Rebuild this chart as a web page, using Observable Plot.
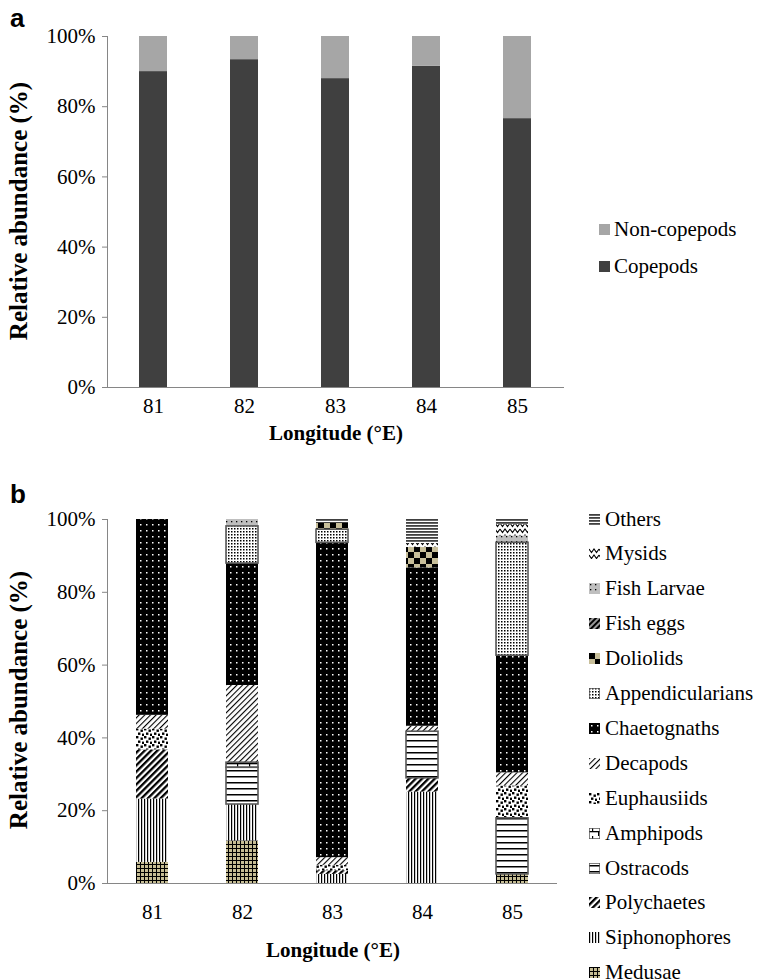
<!DOCTYPE html>
<html><head><meta charset="utf-8">
<script src="https://cdn.jsdelivr.net/npm/d3@7"></script>
<script src="https://cdn.jsdelivr.net/npm/@observablehq/plot@0.6"></script>
<style>
body{margin:0;background:#fff;}
#wrap{position:relative;width:770px;height:980px;overflow:hidden;font-family:"Liberation Serif","Times New Roman",serif;color:#000;background:#fff;}
.pl text{fill:#000;}
.letter{position:absolute;font-family:"Liberation Sans",Arial,sans-serif;font-weight:bold;font-size:26px;line-height:1;}
.xt{position:absolute;font-weight:bold;font-size:21px;line-height:1;transform:translateX(-50%);white-space:nowrap;}
.yt{position:absolute;font-weight:bold;font-size:25px;line-height:1;white-space:nowrap;transform:translate(-50%,-50%) rotate(-90deg);}
.row{position:absolute;display:flex;align-items:center;white-space:nowrap;height:30px;font-size:21px;line-height:1;}
.row svg{display:block;}
</style></head>
<body>
<div id="wrap"></div>
<script>
// ---------- data ----------
const longitudes = ["81", "82", "83", "84", "85"];
const yTicks = [0, 20, 40, 60, 80, 100];

// panel a
const groupsA = ["Copepods", "Non-copepods"];
const copepods = [90.0, 93.4, 88.0, 91.5, 76.6];
const nonCopepods = [10.0, 6.6, 12.0, 8.5, 23.4];

// panel b (stack order: bottom -> top)
const taxa = ["Medusae", "Siphonophores", "Polychaetes", "Ostracods", "Amphipods", "Euphausiids", "Decapods",
  "Chaetognaths", "Appendicularians", "Doliolids", "Fish eggs", "Fish Larvae", "Mysids", "Others"];
const medusae = [5.8, 11.7, 0, 0, 2.5];
const siphonophores = [17.4, 10.0, 2.5, 25.1, 0];
const polychaetes = [13.5, 0, 1.0, 3.8, 0];
const ostracods = [0, 10.1, 0, 12.8, 15.4];
const amphipods = [0, 1.4, 0, 0, 0];
const euphausiids = [5.7, 0, 1.5, 0, 8.9];
const decapods = [3.8, 21.2, 2.1, 1.5, 3.6];
const chaetognaths = [53.8, 33.5, 86.5, 43.5, 32.2];
const appendicularians = [0, 10.2, 3.6, 0, 31.0];
const doliolids = [0, 0, 1.7, 5.6, 0];
const fishEggs = [0, 0, 0, 0, 0];
const fishLarvae = [0, 1.9, 0, 0, 1.9];
const mysids = [0, 0, 0, 1.1, 3.1];
const others = [0, 0, 1.1, 6.6, 1.4];

// ---------- styles ----------
const colorA = {"Copepods": "#404040", "Non-copepods": "#a6a6a6"};
const patId = {"Medusae": "p-med", "Siphonophores": "p-sip", "Polychaetes": "p-pol", "Ostracods": "p-ost",
  "Amphipods": "p-amp", "Euphausiids": "p-euf", "Decapods": "p-dec", "Chaetognaths": "p-cha",
  "Appendicularians": "p-app", "Doliolids": "p-dol", "Fish eggs": "p-egg", "Fish Larvae": "p-fla",
  "Mysids": "p-mys", "Others": "p-oth"};
const outlined = new Set(["Ostracods", "Appendicularians", "Amphipods"]);

const defs = `
<svg width="0" height="0" style="position:absolute"><defs>
<pattern id="p-med" width="4" height="4" patternUnits="userSpaceOnUse">
  <rect width="4" height="4" fill="#c6bd94"/><rect width="4" height="1" fill="#000"/><rect width="1" height="4" fill="#000"/></pattern>
<pattern id="p-sip" width="3" height="3" patternUnits="userSpaceOnUse">
  <rect width="3" height="3" fill="#fff"/><rect width="1.2" height="3" fill="#000"/></pattern>
<pattern id="p-pol" width="4.5" height="4.5" patternUnits="userSpaceOnUse" patternTransform="rotate(45)">
  <rect width="4.5" height="4.5" fill="#fff"/><rect width="2.3" height="4.5" fill="#000"/></pattern>
<pattern id="p-ost" width="6" height="6" patternUnits="userSpaceOnUse">
  <rect width="6" height="6" fill="#fff"/><rect y="2" width="6" height="1.5" fill="#000"/></pattern>
<pattern id="p-amp" width="12" height="8" patternUnits="userSpaceOnUse">
  <rect width="12" height="8" fill="#fff"/><rect y="3" width="12" height="1.3" fill="#000"/>
  <rect x="3" y="0" width="1.2" height="3" fill="#000"/><rect x="9" y="4" width="1.2" height="4" fill="#000"/></pattern>
<pattern id="p-euf" width="8" height="8" patternUnits="userSpaceOnUse">
  <rect width="8" height="8" fill="#fff"/>
  <rect x="0" y="0" width="2.4" height="2.4" fill="#000"/><rect x="4.5" y="1.5" width="2.4" height="2.4" fill="#000"/>
  <rect x="2" y="4.5" width="2.4" height="2.4" fill="#000"/><rect x="6" y="5.6" width="2.4" height="2.4" fill="#000"/></pattern>
<pattern id="p-dec" width="4" height="4" patternUnits="userSpaceOnUse" patternTransform="rotate(45)">
  <rect width="4" height="4" fill="#fff"/><rect width="1.1" height="4" fill="#000"/></pattern>
<pattern id="p-cha" width="6" height="6" patternUnits="userSpaceOnUse">
  <rect width="6" height="6" fill="#000"/><rect x="2" y="2" width="1.5" height="1.5" fill="#fff"/></pattern>
<pattern id="p-app" width="3" height="3" patternUnits="userSpaceOnUse">
  <rect width="3" height="3" fill="#fff"/><rect width="1.5" height="1.5" fill="#000"/></pattern>
<pattern id="p-dol" width="12" height="12" patternUnits="userSpaceOnUse">
  <rect width="12" height="12" fill="#c8bf9a"/><rect width="6" height="6" fill="#000"/><rect x="6" y="6" width="6" height="6" fill="#000"/></pattern>
<pattern id="p-egg" width="4" height="4" patternUnits="userSpaceOnUse" patternTransform="rotate(45)">
  <rect width="4" height="4" fill="#9a9a9a"/><rect width="2" height="4" fill="#000"/></pattern>
<pattern id="p-fla" width="5" height="5" patternUnits="userSpaceOnUse">
  <rect width="5" height="5" fill="#bfbfbf"/><rect x="1" y="1" width="1.3" height="1.3" fill="#000"/></pattern>
<pattern id="p-mys" width="10" height="6" patternUnits="userSpaceOnUse">
  <rect width="10" height="6" fill="#fff"/><polyline points="0,1 2.5,4.5 5,1 7.5,4.5 10,1" fill="none" stroke="#000" stroke-width="1.1"/></pattern>
<pattern id="p-oth" width="3" height="3" patternUnits="userSpaceOnUse">
  <rect width="3" height="3" fill="#fff"/><rect width="3" height="1.8" fill="#404040"/></pattern>
</defs></svg>`;

const wrap = document.getElementById("wrap");
wrap.insertAdjacentHTML("beforeend", defs);

function stackRows(lons, series, names) {
  const rows = [];
  lons.forEach((lon, i) => {
    let acc = 0;
    names.forEach((name, k) => {
      const v = series[k][i];
      if (v > 0) rows.push({lon, name, y1: acc, y2: acc + v});
      acc += v;
    });
  });
  return rows;
}

const rowsA = stackRows(longitudes, [copepods, nonCopepods], groupsA);
const seriesB = [medusae, siphonophores, polychaetes, ostracods, amphipods, euphausiids, decapods,
  chaetognaths, appendicularians, doliolids, fishEggs, fishLarvae, mysids, others];
const rowsB = stackRows(longitudes, seriesB, taxa);

function place(el, left, top) { el.style.position = "absolute"; el.style.left = left + "px"; el.style.top = top + "px"; wrap.appendChild(el); return el; }
function div(cls, text) { const d = document.createElement("div"); d.className = cls; d.textContent = text; return d; }

const baseStyle = {fontFamily: "'Liberation Serif','Times New Roman',serif", fontSize: "21px", color: "#868686", background: "transparent", overflow: "visible"};

// ---------- panel a ----------
const plotA = Plot.plot({
  width: 770, height: 430, marginLeft: 107, marginRight: 206, marginTop: 36, marginBottom: 43,
  style: baseStyle,
  x: {domain: longitudes, paddingInner: 0.69, paddingOuter: 0.345, tickSize: 0, tickPadding: 11, label: null},
  y: {domain: [0, 100], ticks: yTicks, tickFormat: d => d + "%", tickSize: 5, tickPadding: 7, label: null, line: true},
  color: {type: "identity"},
  marks: [
    Plot.barY(rowsA, {x: "lon", y1: "y1", y2: "y2", fill: d => colorA[d.name]}),
    Plot.ruleY([0], {stroke: "#868686"})
  ]
});
const boxA = document.createElement("div"); boxA.className = "pl"; boxA.appendChild(plotA);
place(boxA, 0, 0);

// ---------- panel b ----------
const plotB = Plot.plot({
  width: 770, height: 440, marginLeft: 107, marginRight: 213, marginTop: 39, marginBottom: 37,
  style: baseStyle,
  x: {domain: longitudes, paddingInner: 0.64, paddingOuter: 0.32, tickSize: 0, tickPadding: 21, label: null},
  y: {domain: [0, 100], ticks: yTicks, tickFormat: d => d + "%", tickSize: 5, tickPadding: 7, label: null, line: true},
  color: {type: "identity"},
  marks: [
    Plot.barY(rowsB, {x: "lon", y1: "y1", y2: "y2", fill: d => "url(#" + patId[d.name] + ")"}),
    Plot.barY(rowsB.filter(d => outlined.has(d.name)), {x: "lon", y1: "y1", y2: "y2", fill: "none", stroke: "#595959", strokeWidth: 1.6}),
    Plot.ruleY([0], {stroke: "#868686"})
  ]
});
const boxB = document.createElement("div"); boxB.className = "pl"; boxB.appendChild(plotB);
place(boxB, 0, 480);

// ---------- texts ----------
place(div("letter", "a"), 10, 5);
place(div("letter", "b"), 10, 481);
place(div("xt", "Longitude (°E)"), 336, 423);
place(div("xt", "Longitude (°E)"), 333, 940);
place(div("yt", "Relative abundance (%)"), 18, 211);
place(div("yt", "Relative abundance (%)"), 18, 700);

// ---------- legends ----------
function swatch(fill, outline) {
  const ns = "http://www.w3.org/2000/svg";
  const s = document.createElementNS(ns, "svg");
  s.setAttribute("width", 11); s.setAttribute("height", 11);
  const r = document.createElementNS(ns, "rect");
  r.setAttribute("width", 11); r.setAttribute("height", 11); r.setAttribute("fill", fill);
  if (outline) { r.setAttribute("stroke", "#595959"); r.setAttribute("stroke-width", 1.5); }
  s.appendChild(r);
  return s;
}
function legendRow(fill, outline, label, left, cy, gap) {
  const r = document.createElement("div"); r.className = "row";
  const sw = swatch(fill, outline); sw.style.marginRight = gap + "px";
  r.appendChild(sw);
  const t = document.createElement("span"); t.textContent = label; r.appendChild(t);
  place(r, left, cy - 15);
}
groupsA.slice().reverse().forEach((g, i) => legendRow(colorA[g], false, g, 599, 229 + i * 37, 4));
taxa.slice().reverse().forEach((t, i) => legendRow("url(#" + patId[t] + ")", outlined.has(t), t, 589, 519 + i * 34.9, 5));
</script>
</body></html>
